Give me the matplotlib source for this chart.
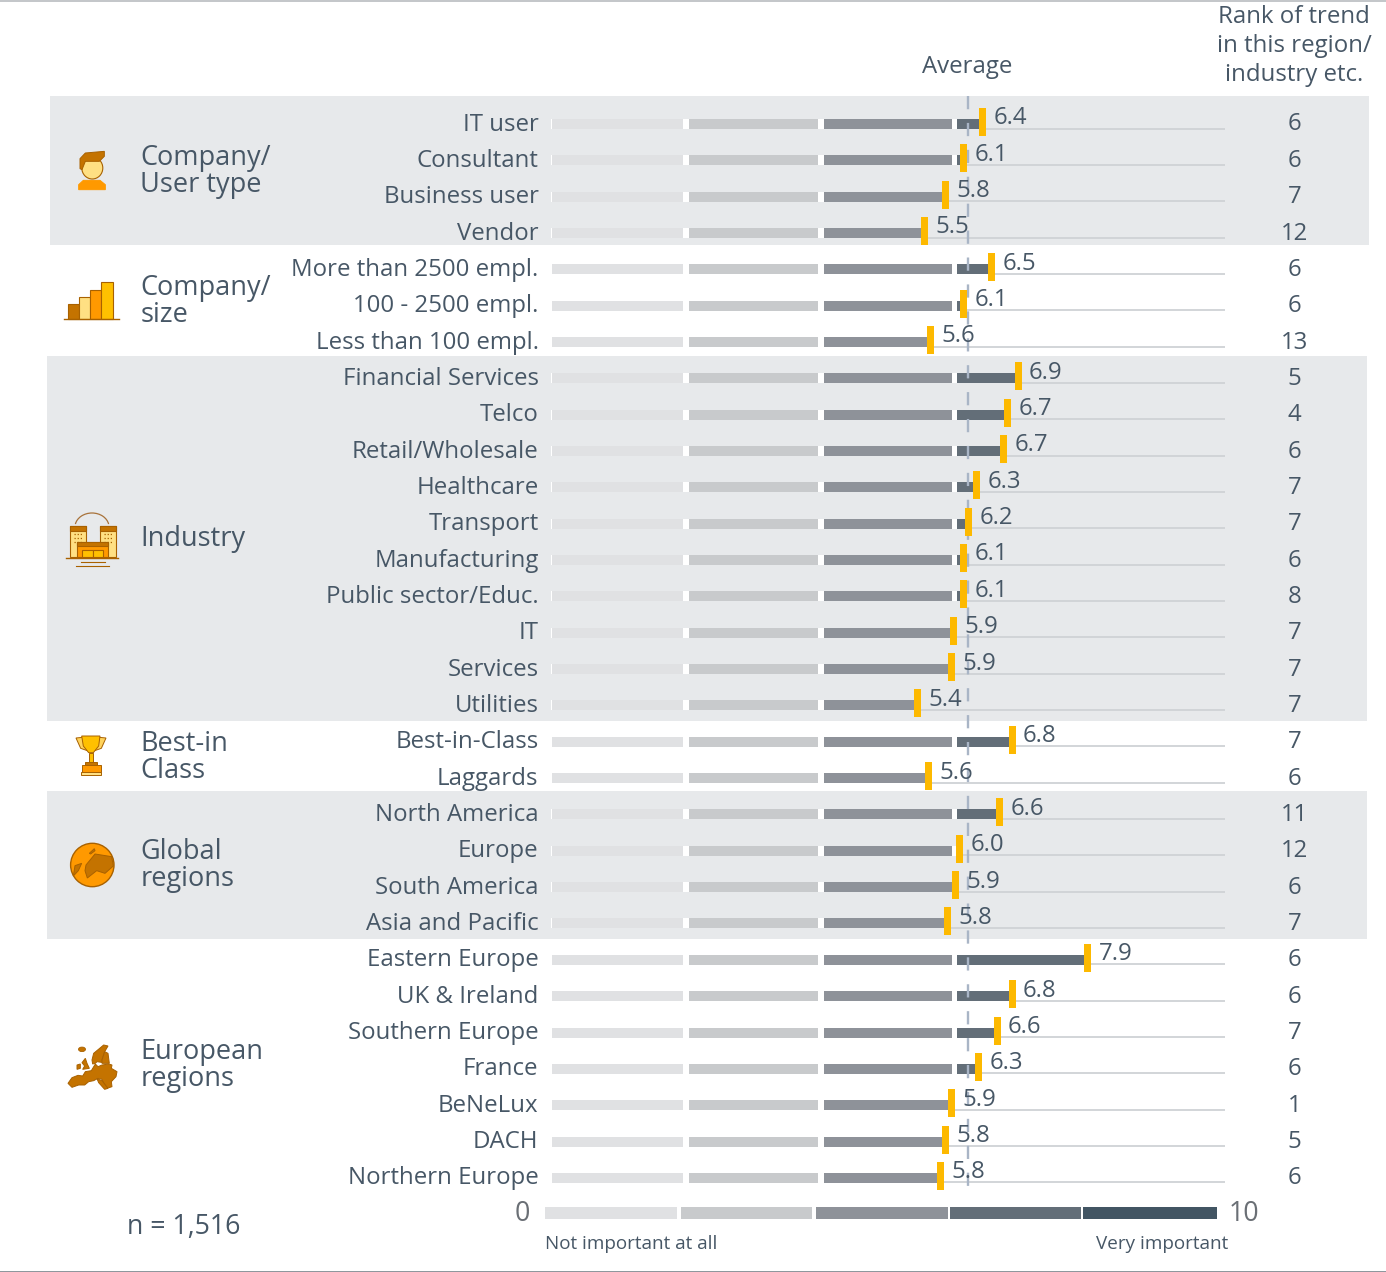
import matplotlib
matplotlib.use("Agg")
import matplotlib.pyplot as plt
from matplotlib.patches import Rectangle, Polygon, Ellipse, Circle, Arc

plt.rcParams['font.family'] = ['Open Sans', 'DejaVu Sans']

# ---------- data ----------
categories = ["IT user", "Consultant", "Business user", "Vendor",
              "More than 2500 empl.", "100 - 2500 empl.", "Less than 100 empl.",
              "Financial Services", "Telco", "Retail/Wholesale", "Healthcare", "Transport",
              "Manufacturing", "Public sector/Educ.", "IT", "Services", "Utilities",
              "Best-in-Class", "Laggards",
              "North America", "Europe", "South America", "Asia and Pacific",
              "Eastern Europe", "UK & Ireland", "Southern Europe", "France", "BeNeLux",
              "DACH", "Northern Europe"]
values = [6.38, 6.10, 5.83, 5.52,
          6.51, 6.10, 5.61,
          6.90, 6.74, 6.68, 6.28, 6.17, 6.10, 6.09, 5.94, 5.91, 5.42,
          6.81, 5.58,
          6.62, 6.04, 5.97, 5.85,
          7.93, 6.81, 6.59, 6.31, 5.91, 5.82, 5.76]
value_labels = ["6.4", "6.1", "5.8", "5.5",
                "6.5", "6.1", "5.6",
                "6.9", "6.7", "6.7", "6.3", "6.2", "6.1", "6.1", "5.9", "5.9", "5.4",
                "6.8", "5.6",
                "6.6", "6.0", "5.9", "5.8",
                "7.9", "6.8", "6.6", "6.3", "5.9", "5.8", "5.8"]
ranks = [6, 6, 7, 12,
         6, 6, 13,
         5, 4, 6, 7, 7, 6, 8, 7, 7, 7,
         7, 6,
         11, 12, 6, 7,
         6, 6, 7, 6, 1, 5, 6]
average = 6.16
group_names = [["Company/", "User type"], ["Company/", "size"], ["Industry"],
               ["Best-in", "Class"], ["Global", "regions"], ["European", "regions"]]
group_baselines = [[165, 192], [295, 322], [546], [751, 778], [859, 886], [1059, 1086]]
segment_starts = [0.02, 2.04, 4.03, 6.0]
segment_ends = [1.95, 3.94, 5.93, 7.95]
scale_colors = ["#e0e1e3", "#c8cacc", "#8e9299", "#636e78", "#425563"]
scale_starts = [0, 2.03, 4.03, 6.03, 8.0]
scale_widths = [1.97, 1.94, 1.96, 1.94, 2.0]

# ---------- layout ----------
W, H = 1386, 1272
PX_X0, PX_PER_VAL = 551.0, 67.7
PX_Y0, PX_PER_ROW = 124.0, 36.34
TXT = "#475766"
FS = 17.3

fig = plt.figure(figsize=(W / 100, H / 100), dpi=100, facecolor="white")

# pixel-space layer for bands, icons and text
deco = fig.add_axes([0, 0, 1, 1], zorder=0)
deco.set_xlim(0, W)
deco.set_ylim(H, 0)
deco.axis("off")

# data layer
ax = fig.add_axes([0, 0, 1, 1], zorder=1)
ax.patch.set_alpha(0)
ax.set_xlim(-PX_X0 / PX_PER_VAL, (W - PX_X0) / PX_PER_VAL)
ax.set_ylim((H - PX_Y0) / PX_PER_ROW, -PX_Y0 / PX_PER_ROW)
ax.axis("off")

# bands
BAND = "#e7e9eb"
for x0, x1, y0, y1 in [(50, 1369, 96, 245), (47, 1367, 356, 721), (47, 1367, 791, 939)]:
    deco.add_patch(Rectangle((x0, y0), x1 - x0, y1 - y0, fc=BAND, ec="none", zorder=0))

# frame edges of the screenshot
deco.add_patch(Rectangle((0, 0), W, 1.5, fc="#c4c7ca", ec="none"))
deco.add_patch(Rectangle((0, 1270.5), W, 1.5, fc="#8f979d", ec="none"))

bar_h = 10 / PX_PER_ROW
rows = range(len(categories))

for i in rows:
    v = values[i]
    ax.hlines(i + 4.5 / PX_PER_ROW, values[i], 9.96, color="#cfd2d5", lw=1.3, zorder=1)
    ax.barh(i, v, height=bar_h, color="white", zorder=2)
    for s, e, c in zip(segment_starts, segment_ends, scale_colors):
        if v > s:
            ax.barh(i, min(v, e) - s, left=s, height=bar_h, color=c, zorder=3)

# average line
ax.plot([average, average], [-0.76, 29.36], color="#a9b5c6", lw=1.7,
        dashes=(5.6, 5.8), zorder=4)

# markers and labels
for i in rows:
    v = values[i]
    ax.barh(i - 2 / PX_PER_ROW, 7 / PX_PER_VAL, left=v - 3.5 / PX_PER_VAL,
            height=28 / PX_PER_ROW, color="#fdb900", zorder=5)
    ax.annotate(value_labels[i], (v, i), xytext=(7.9, -0.3), textcoords="offset points",
                ha="left", va="baseline", fontsize=FS, color=TXT, zorder=6)
    ax.annotate(categories[i], (0, i), xytext=(-9.0, -4.7), textcoords="offset points",
                ha="right", va="baseline", fontsize=FS, color=TXT, zorder=6)
    deco.text(1294.5, PX_Y0 + PX_PER_ROW * i + 6.5, str(ranks[i]), ha="center", va="baseline",
              fontsize=FS, color=TXT, zorder=6)

# headers
deco.text(967, 73, "Average", ha="center", va="baseline", fontsize=FS, color=TXT)
for s, b in zip(["Rank of trend", "in this region/", "industry etc."], [23, 52, 81]):
    deco.text(1294, b, s, ha="center", va="baseline", fontsize=FS, color=TXT)

# group labels
for lines, bases in zip(group_names, group_baselines):
    for s, b in zip(lines, bases):
        deco.text(140.5, b, s, ha="left", va="baseline", fontsize=19.5, color=TXT)

deco.text(127, 1234, "n = 1,516", ha="left", va="baseline", fontsize=FS + 2, color=TXT)

# scale legend
leg = fig.add_axes([545 / W, 1 - 1219 / H, (1217 - 545) / W, 12 / H], zorder=2)
leg.set_xlim(0, 10)
leg.set_ylim(0, 1)
leg.axis("off")
leg.barh(0.5, scale_widths, left=scale_starts, height=1, color=scale_colors)
deco.text(522, 1221, "0", ha="center", va="baseline", fontsize=FS + 2, color="#6a6f75")
deco.text(1243.5, 1221, "10", ha="center", va="baseline", fontsize=FS + 2, color="#6a6f75")
deco.text(545, 1249, "Not important at all", ha="left", va="baseline", fontsize=13.6, color=TXT)
deco.text(1228, 1249, "Very important", ha="right", va="baseline", fontsize=13.6, color=TXT)

# ---------- icons ----------
DK, MID, OR, YE, LT = "#a86100", "#c47300", "#ff9900", "#ffc000", "#ffe083"

def rect(x0, y0, x1, y1, fc, ec=DK, lw=0.8, z=3):
    deco.add_patch(Rectangle((x0, y0), x1 - x0, y1 - y0, fc=fc, ec=ec, lw=lw, zorder=z))

def zpoly(ox, oy, pts, fc, ec=DK, lw=0.7, z=3):
    deco.add_patch(Polygon([(ox + a / 3, oy + b / 3) for a, b in pts], closed=True,
                           fc=fc, ec=ec, lw=lw, zorder=z))

# person
zpoly(66, 148, [(38, 125), (38, 110), (52, 97), (102, 97), (118, 110), (118, 125)], OR, ec=OR)
deco.add_patch(Ellipse((92.3, 168), 21, 22, fc=LT, ec=DK, lw=0.8, zorder=3))
zpoly(66, 148, [(42, 62), (42, 32), (58, 15), (115, 10), (115, 25), (100, 40), (58, 40), (48, 65)], MID)

# company size bars
for x0, x1, top, c in [(68, 79, 304, MID), (79, 90, 297, LT), (90, 101, 290, OR), (101, 113, 282, YE)]:
    rect(x0, top, x1, 319, c)
deco.plot([64, 119], [319, 319], color=DK, lw=1, zorder=4)

# industry
for x0, x1 in [(69.5, 86), (100, 116)]:
    rect(x0, 526, x1, 557, LT)
    rect(x0, 526, x1, 531, MID)
    for yy in (534, 538, 542):
        deco.plot([x0 + 4, x1 - 3], [yy, yy], color=DK, lw=0.9, ls=(0, (1, 1.5)), zorder=4)
rect(77, 542, 108, 557, OR)
rect(77, 542, 108, 546, MID)
rect(82, 550, 92.5, 557, YE)
rect(92.5, 550, 103, 557, YE)
deco.plot([66, 118], [557.5, 557.5], color=DK, lw=1, zorder=5)
deco.plot([81, 105], [561.5, 561.5], color=DK, lw=0.8, zorder=5)
deco.plot([76, 109], [565.5, 565.5], color=DK, lw=0.8, zorder=5)
deco.add_patch(Arc((92, 527), 34, 28, theta1=190, theta2=350, ec="#a8723a", lw=0.9, zorder=4))

# trophy
TR = (50, 500)
zpoly(*TR, [(78, 714), (98, 712), (112, 752), (92, 745)], "#ffd35c")
zpoly(*TR, [(168, 714), (148, 712), (134, 752), (154, 745)], "#ffd35c")
zpoly(*TR, [(95, 708), (150, 708), (146, 738), (130, 758), (116, 758), (100, 738)], YE)
zpoly(*TR, [(117, 758), (129, 758), (129, 785), (117, 785)], YE)
zpoly(*TR, [(105, 785), (142, 785), (142, 795), (105, 795)], MID)
zpoly(*TR, [(95, 795), (152, 795), (152, 815), (95, 815)], OR)
zpoly(*TR, [(93, 815), (153, 815), (153, 825), (93, 825)], LT)

# globe
deco.add_patch(Circle((92.3, 865), 21.7, fc=OR, ec=DK, lw=1, zorder=3))
zpoly(50, 500, [(108, 1095), (122, 1078), (135, 1062), (185, 1070), (190, 1098), (165, 1120),
                (140, 1112), (112, 1134), (105, 1112)], MID)
zpoly(50, 500, [(70, 1128), (75, 1097), (95, 1090), (85, 1112)], MID)
zpoly(50, 500, [(118, 1060), (133, 1046), (135, 1052), (122, 1062)], MID)

# Europe
EU = (62, 1040)
zpoly(*EU, [(18, 130), (30, 113), (48, 106), (62, 108), (70, 95), (88, 92), (100, 72), (108, 80),
            (120, 75), (140, 72), (150, 75), (148, 85), (165, 95), (162, 110), (148, 125),
            (150, 140), (135, 145), (125, 130), (120, 118), (108, 115), (95, 122), (80, 125),
            (68, 135), (50, 135), (30, 142)], MID)
zpoly(*EU, [(105, 116), (120, 122), (138, 145), (128, 148), (110, 128)], MID)
zpoly(*EU, [(90, 60), (95, 40), (125, 15), (138, 18), (128, 35), (120, 60), (125, 68),
            (105, 65), (100, 70), (92, 72)], MID)
zpoly(*EU, [(128, 35), (138, 40), (142, 70), (120, 70), (120, 60)], MID)
zpoly(*EU, [(60, 68), (70, 55), (75, 70), (82, 85), (62, 88), (68, 78)], MID)
zpoly(*EU, [(45, 75), (55, 72), (55, 85), (45, 88)], MID)
deco.add_patch(Ellipse((EU[0] + 60 / 3, EU[1] + 28 / 3), 7, 4.5, fc=MID, ec=DK, lw=0.6, zorder=3))

fig.savefig("out.png", dpi=100)
